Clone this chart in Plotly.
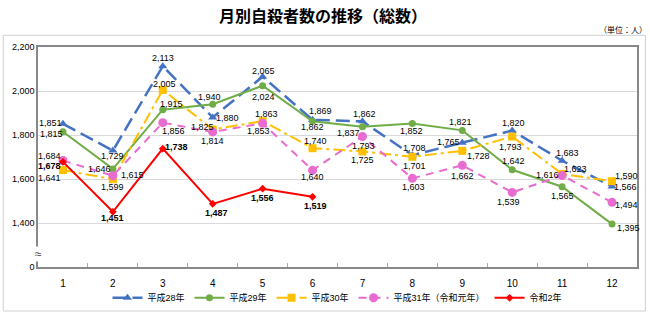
import plotly.graph_objects as go

months = list(range(1, 13))
month_labels = [str(m) for m in months]

h28 = [1851, 1729, 2113, 1880, 2065, 1869, 1862, 1708, 1765, 1820, 1683, 1566]
h29 = [1815, 1646, 1915, 1940, 2024, 1862, 1837, 1852, 1821, 1642, 1565, 1395]
h30 = [1641, 1599, 2005, 1825, 1863, 1740, 1725, 1701, 1728, 1793, 1623, 1590]
h31 = [1684, 1615, 1856, 1814, 1853, 1640, 1793, 1603, 1662, 1539, 1616, 1494]
r2 = [1678, 1451, 1738, 1487, 1556, 1519]

y_tickvals = [1200, 1400, 1600, 1800, 2000, 2200]
y_ticktext = ["0", "1,400", "1,600", "1,800", "2,000", "2,200"]

# label pixel offsets (style only): (xshift, yshift)
off_h28 = [(-12, 1), (0, -5), (0, 8), (15, -1), (1, 6), (8, 9), (2, 7), (2, 7), (-14, 1), (1, 8), (5, 8), (13, -1)]
off_h29 = [(-11, -2), (-13, 0), (9, 6), (-3, 7), (1, -11), (0, -6), (-14, -6), (-1, -7), (-2, 8), (1, 9), (0, -9), (16, -4)]
off_h30 = [(-13, -8), (0, -8), (2, 6), (-10, 3), (4, 7), (3, 7), (0, -8), (2, -9), (16, -5), (-2, -10), (13, 5), (14, 5)]
off_h31 = [(-13, 5), (20, 1), (11, -8), (0, -9), (-4, -8), (0, -7), (1, -9), (1, -9), (0, -11), (-4, -10), (-15, 0), (14, -3)]
off_r2 = [(-13, -4), (0, -6), (14, 2), (4, -9), (0, -9), (3, -9)]

FONT = "Arial, Liberation Sans, Noto Sans CJK JP, sans-serif"

fig = go.Figure()

def add(name, vals, color, dash, symbol, msize, width, offs, bold=False):
    fig.add_trace(go.Scatter(
        x=months[:len(vals)], y=vals, name=name, mode="lines+markers",
        line=dict(color=color, dash=dash, width=width),
        marker=dict(symbol=symbol, size=msize, color=color),
        cliponaxis=False,
    ))
    for m, v, (dx, dy) in zip(months, vals, offs):
        t = f"{v:,}"
        fig.add_annotation(x=m, y=v, xref="x", yref="y", text=f"<b>{t}</b>" if bold else t,
                           showarrow=False, xshift=dx, yshift=dy, xanchor="center", yanchor="middle",
                           font=dict(family=FONT, size=9, color="#000"))

add("平成28年", h28, "#4472C4", "14px,6px", "triangle-up", 8, 2.5, off_h28)
add("平成29年", h29, "#70AD47", "solid", "circle", 7, 2, off_h29)
add("平成30年", h30, "#FFC000", "12px,4px,3px,4px", "square", 8, 2, off_h30)
add("平成31年（令和元年）", h31, "#E86BD0", "8px,6px", "circle", 9, 2, off_h31)
add("令和2年", r2, "#FF0000", "solid", "diamond", 6, 2, off_r2, bold=True)

fig.update_layout(
    width=650, height=324,
    margin=dict(l=38, r=13, t=47, b=50),
    paper_bgcolor="white", plot_bgcolor="white",
    font=dict(family=FONT, size=9, color="#000"),
    showlegend=True,
    legend=dict(orientation="h", x=0.5, xanchor="center", y=-0.14, yanchor="middle",
                bgcolor="rgba(0,0,0,0)",
                font=dict(family=FONT, size=9), itemwidth=30, tracegroupgap=0),
    title=dict(text="<b>月別自殺者数の推移（総数）</b>", x=0.497, xanchor="center", y=0.95, yanchor="middle",
               font=dict(family="Noto Sans CJK JP, sans-serif", size=16, color="#000")),
)
fig.update_xaxes(
    range=[0.5, 12.5], tickvals=months, ticktext=month_labels, ticks="",
    showgrid=False, showline=True, linecolor="#888", linewidth=1.5, mirror=True,
    tickfont=dict(family=FONT, size=10), ticklabelstandoff=6,
    minor=dict(tickvals=[m + 0.5 for m in months[:-1]], ticks="inside", ticklen=4, tickcolor="#aaa", showgrid=False),
    zeroline=False,
)
fig.update_yaxes(
    range=[1200, 2200], tickvals=y_tickvals, ticktext=y_ticktext,
    showgrid=True, gridcolor="#d9d9d9", gridwidth=1,
    showline=True, linecolor="#888", linewidth=1.5, mirror=True,
    tickfont=dict(family=FONT, size=9), zeroline=False, ticks="",
)
# outer frame
fig.add_shape(type="rect", xref="paper", yref="paper", x0=-0.058, x1=1.014, y0=-0.2, y1=1.053,
              line=dict(color="#d0d0d0", width=1), fillcolor="rgba(0,0,0,0)", layer="below")
fig.add_annotation(text="（単位：人）", xref="paper", yref="paper", x=1.02, y=1.08, xanchor="right",
                   yanchor="middle", showarrow=False, font=dict(family="Noto Sans CJK JP", size=8))
fig.add_annotation(text="≈", xref="paper", yref="paper", x=0, y=0.06, xanchor="center",
                   yanchor="middle", showarrow=False, bgcolor="white", borderpad=0,
                   font=dict(family=FONT, size=12, color="#444"))

fig.write_html("out.html")
